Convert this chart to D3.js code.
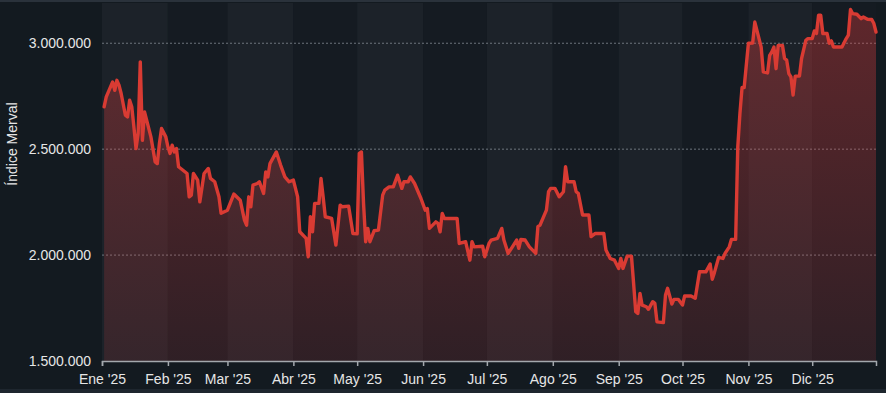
<!DOCTYPE html>
<html>
<head>
<meta charset="utf-8">
<script src="https://cdn.jsdelivr.net/npm/d3@7"></script>
<style>
    html, body { margin: 0; padding: 0; background: #131a20; }
    #chart { width: 886px; height: 393px; }
</style>
</head>
<body>
<div id="chart"></div>
<script>
// Índice Merval 2025, valores diarios
const dates = [
    '01-02', '01-03', '01-05', '01-06', '01-07', '01-08', '01-09', '01-10', '01-12', '01-13',
    '01-14', '01-15', '01-16', '01-17', '01-18', '01-19', '01-20', '01-21', '01-22', '01-24',
    '01-26', '01-27', '01-28', '01-29', '01-31', '02-01', '02-02', '02-03', '02-04', '02-05',
    '02-06', '02-10', '02-11', '02-12', '02-13', '02-15', '02-16', '02-18', '02-20', '02-21',
    '02-23', '02-25', '02-26', '03-01', '03-04', '03-07', '03-09', '03-10', '03-11', '03-12',
    '03-13', '03-15', '03-16', '03-18', '03-19', '03-20', '03-21', '03-24', '03-26', '03-28',
    '03-30', '04-01', '04-03', '04-04', '04-07', '04-08', '04-09', '04-10', '04-11', '04-13',
    '04-14', '04-15', '04-16', '04-19', '04-21', '04-23', '04-24', '04-27', '04-29', '05-01',
    '05-02', '05-03', '05-04', '05-05', '05-06', '05-07', '05-09', '05-11', '05-13', '05-14',
    '05-16', '05-18', '05-20', '05-22', '05-23', '05-25', '05-26', '05-28', '05-31', '06-02',
    '06-03', '06-04', '06-07', '06-08', '06-09', '06-10', '06-11', '06-17', '06-18', '06-21',
    '06-23', '06-24', '06-25', '06-29', '06-30', '07-02', '07-03', '07-06', '07-08', '07-09',
    '07-11', '07-13', '07-15', '07-16', '07-17', '07-19', '07-21', '07-24', '07-25', '07-26',
    '07-28', '07-29', '07-30', '07-31', '08-02', '08-04', '08-06', '08-07', '08-08', '08-11',
    '08-12', '08-13', '08-15', '08-18', '08-19', '08-21', '08-25', '08-26', '08-28', '08-30',
    '09-01', '09-02', '09-03', '09-05', '09-07', '09-08', '09-09', '09-10', '09-11', '09-12',
    '09-14', '09-15', '09-17', '09-18', '09-19', '09-22', '09-23', '09-24', '09-26', '09-27',
    '09-29', '10-01', '10-02', '10-05', '10-07', '10-09', '10-12', '10-14', '10-15', '10-16',
    '10-18', '10-20', '10-21', '10-23', '10-24', '10-26', '10-27', '10-28', '10-29', '10-30',
    '11-01', '11-03', '11-04', '11-05', '11-07', '11-08', '11-10', '11-11', '11-12', '11-13',
    '11-14', '11-15', '11-17', '11-18', '11-19', '11-20', '11-21', '11-22', '11-23', '11-25',
    '11-26', '11-28', '11-29', '12-01', '12-02', '12-03', '12-04', '12-05', '12-06', '12-08',
    '12-09', '12-10', '12-11', '12-15', '12-17', '12-18', '12-19', '12-20', '12-22', '12-24',
    '12-25', '12-27', '12-29', '12-30', '12-31'
]
const values = [
    2700000, 2747000, 2794000, 2817000, 2778000, 2825000, 2802000, 2763000, 2660000, 2652000,
    2731000, 2700000, 2605000, 2503000, 2574000, 2912000, 2542000, 2676000, 2637000, 2558000,
    2440000, 2432000, 2527000, 2598000, 2558000, 2511000, 2480000, 2519000, 2487000, 2503000,
    2417000, 2385000, 2275000, 2283000, 2385000, 2354000, 2251000, 2385000, 2409000, 2362000,
    2346000, 2275000, 2197000, 2212000, 2288000, 2259000, 2165000, 2141000, 2275000, 2228000,
    2330000, 2338000, 2346000, 2291000, 2393000, 2369000, 2432000, 2487000, 2425000, 2369000,
    2346000, 2354000, 2275000, 2110000, 2079000, 1992000, 2181000, 2110000, 2244000, 2244000,
    2362000, 2275000, 2181000, 2173000, 2047000, 2236000, 2228000, 2231000, 2102000, 2100000,
    2480000, 2487000, 2244000, 2063000, 2126000, 2063000, 2115000, 2118000, 2283000, 2307000,
    2322000, 2322000, 2377000, 2315000, 2346000, 2346000, 2369000, 2338000, 2267000, 2212000,
    2220000, 2126000, 2157000, 2150000, 2110000, 2197000, 2173000, 2173000, 2055000, 2063000,
    1976000, 2063000, 2039000, 2042000, 1992000, 2055000, 2071000, 2079000, 2126000, 2071000,
    2008000, 2039000, 2071000, 2032000, 2074000, 2071000, 2039000, 2008000, 2134000, 2141000,
    2189000, 2212000, 2299000, 2315000, 2315000, 2275000, 2299000, 2417000, 2346000, 2346000,
    2299000, 2291000, 2189000, 2189000, 2087000, 2102000, 2102000, 2024000, 1984000, 1976000,
    1937000, 1984000, 1937000, 1995000, 1995000, 1867000, 1733000, 1725000, 1819000, 1764000,
    1756000, 1744000, 1780000, 1772000, 1685000, 1681000, 1811000, 1843000, 1769000, 1791000,
    1791000, 1764000, 1807000, 1807000, 1796000, 1921000, 1921000, 1958000, 1886000, 1917000,
    1989000, 1984000, 2008000, 2039000, 2074000, 2074000, 2511000, 2668000, 2791000, 2791000,
    3000000, 3001000, 3100000, 3061000, 2982000, 2865000, 2860000, 2943000, 2959000, 2982000,
    2880000, 2990000, 2990000, 2928000, 2920000, 2857000, 2841000, 2755000, 2845000, 2845000,
    2928000, 3014000, 3022000, 3022000, 3058000, 3046000, 3132000, 3132000, 3046000, 3046000,
    3000000, 3011000, 2982000, 2982000, 3022000, 3038000, 3159000, 3140000, 3137000, 3116000,
    3124000, 3113000, 3112000, 3093000, 3053000
]
const monthLabels = ['Ene \'25', 'Feb \'25', 'Mar \'25', 'Abr \'25', 'May \'25', 'Jun \'25',
    'Jul \'25', 'Ago \'25', 'Sep \'25', 'Oct \'25', 'Nov \'25', 'Dic \'25']
const yTicks = [1500000, 2000000, 2500000, 3000000]
const yLabel = 'Índice Merval'

const width = 886
const height = 393
const margin = { top: 3, right: 10, bottom: 32, left: 102 }

const parse = d3.timeParse('%Y-%m-%d')
const data = dates.map((d, i) => ({ date: parse('2025-' + d), value: values[i] }))
const months = monthLabels.map((l, i) => new Date(2025, i, 1))

const x = d3.scaleTime()
    .domain([new Date(2025, 0, 1), new Date(2025, 11, 31)])
    .range([margin.left, width - margin.right])
const y = d3.scaleLinear()
    .domain([1500000, 3190000])
    .range([height - margin.bottom, margin.top])

const esAR = d3.formatLocale({ decimal: ',', thousands: '.', grouping: [3], currency: ['$', ''] })
const fmt = esAR.format(',')

const svg = d3.select('#chart').append('svg')
    .attr('width', width)
    .attr('height', height)
    .attr('font-family', '\'Liberation Sans\', Arial, sans-serif')

svg.append('rect')
    .attr('width', width)
    .attr('height', height)
    .attr('fill', '#131a20')

// franjas de borde arriba y abajo
svg.append('rect')
    .attr('width', width).attr('height', 2)
    .attr('fill', '#2a323b')
svg.append('rect')
    .attr('y', height - 4).attr('width', width).attr('height', 4)
    .attr('fill', '#1e262e')

// bandas por mes
const monthEnds = months.slice(1).concat([x.domain()[1]])
svg.append('g')
    .selectAll('rect').data(months).enter()
    .append('rect')
    .attr('x', d => x(d))
    .attr('y', margin.top)
    .attr('width', (d, i) => x(monthEnds[i]) - x(d))
    .attr('height', y.range()[0] - margin.top)
    .attr('fill', (d, i) => i % 2 === 0 ? '#1c2229' : '#151b22')

// grilla
svg.append('g')
    .selectAll('line').data(yTicks.slice(1)).enter()
    .append('line')
    .attr('x1', margin.left)
    .attr('x2', width - 8)
    .attr('y1', d => y(d))
    .attr('y2', d => y(d))
    .attr('stroke', '#8a929b')
    .attr('stroke-opacity', 0.75)
    .attr('stroke-dasharray', '2,2')

// área con degradado
const grad = svg.append('defs').append('linearGradient')
    .attr('id', 'fillGrad')
    .attr('gradientUnits', 'userSpaceOnUse')
    .attr('x1', 0).attr('y1', margin.top)
    .attr('x2', 0).attr('y2', y.range()[0])
grad.append('stop').attr('offset', '0%').attr('stop-color', '#e03c3c').attr('stop-opacity', 0.37)
grad.append('stop').attr('offset', '100%').attr('stop-color', '#e03c3c').attr('stop-opacity', 0.13)

const area = d3.area()
    .x(d => x(d.date))
    .y0(y.range()[0])
    .y1(d => y(d.value))

const line = d3.line()
    .x(d => x(d.date))
    .y(d => y(d.value))

svg.append('path')
    .datum(data)
    .attr('d', area)
    .attr('fill', 'url(#fillGrad)')

svg.append('path')
    .datum(data)
    .attr('d', line)
    .attr('fill', 'none')
    .attr('stroke', '#d93b33')
    .attr('stroke-width', 3.4)
    .attr('stroke-linejoin', 'round')
    .attr('stroke-linecap', 'round')

// eje x
const xAxis = svg.append('g')
    .attr('transform', `translate(0,${y.range()[0]})`)
    .call(d3.axisBottom(x).tickValues(months).tickFormat((d, i) => monthLabels[i]).tickSizeOuter(0).tickSize(5))
xAxis.select('.domain').attr('stroke', '#a3a8ad').attr('stroke-width', 1.5)
xAxis.selectAll('.tick line').attr('stroke', '#a3a8ad').attr('stroke-width', 1.5)
xAxis.selectAll('.tick text')
    .attr('fill', '#e6e6e6')
    .attr('font-size', 14)
    .attr('font-family', '\'Liberation Sans\', Arial, sans-serif')
    .attr('dy', '1.05em')

// eje y
svg.append('g')
    .selectAll('text').data(yTicks).enter()
    .append('text')
    .attr('x', 91)
    .attr('y', d => y(d) + 5)
    .attr('text-anchor', 'end')
    .attr('font-size', 14)
    .attr('fill', '#e6e6e6')
    .text(d => fmt(d))

svg.append('text')
    .attr('transform', 'translate(17,144) rotate(-90)')
    .attr('text-anchor', 'middle')
    .attr('font-size', 14)
    .attr('fill', '#e6e6e6')
    .text(yLabel)
</script>
</body>
</html>
